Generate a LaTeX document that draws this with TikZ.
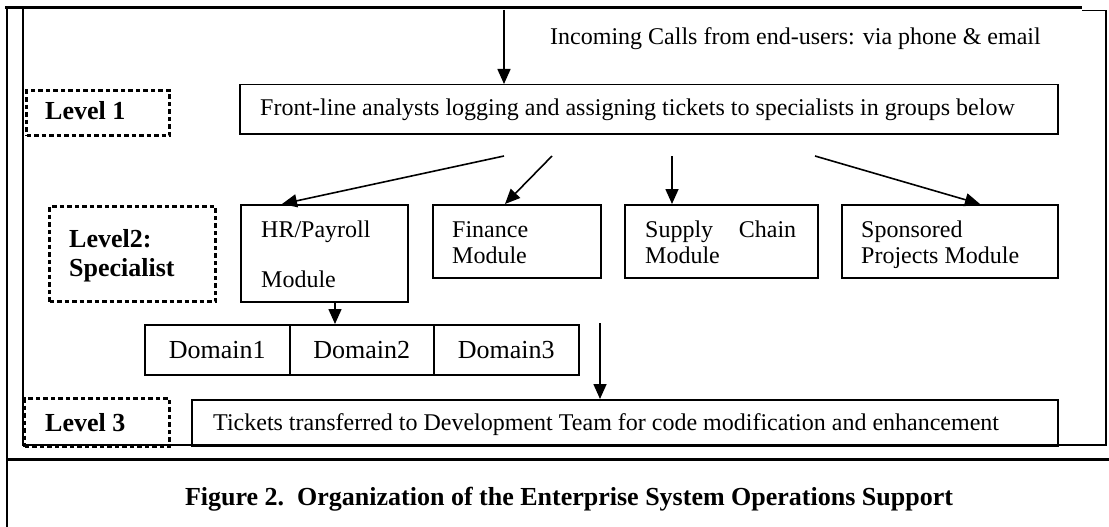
\documentclass[tikz,border=0pt]{standalone}
\usepackage{fontspec}
\setmainfont{Liberation Serif}
\usetikzlibrary{arrows.meta,calc}
\begin{document}
\begin{tikzpicture}[x=1pt,y=-1pt,
  box/.style={draw, line width=1.5pt, inner sep=0pt, anchor=north west},
  lvl/.style={draw, line width=3.2pt, dash pattern=on 4.5pt off 3pt, inner sep=0pt, anchor=north west},
  txt/.style={anchor=base west, inner sep=0pt, font=\fontsize{24}{28}\selectfont},
  btxt/.style={anchor=base west, inner sep=0pt, font=\fontsize{26}{30}\selectfont\bfseries},
  dtxt/.style={font=\fontsize{26}{30}\selectfont},
  arr/.style={line width=1.6pt, -{Triangle[width=13pt,length=15pt]}},
  thick frame/.style={line width=3pt},
  thin frame/.style={line width=1.5pt}]
\useasboundingbox (0,0) rectangle (1109,527);

% frame
\draw[line width=2.5pt] (7,6.5) -- (7,527);
\draw[thick frame] (5,8) -- (1082,8);
\draw[thin frame] (1082,10.5) -- (1106,10.5) -- (1106,445) -- (23,445) -- (23,8);
\draw[thick frame] (7,459) -- (1109,459);

% level boxes
\node[lvl, minimum width=143pt, minimum height=45pt] (lv1) at (25,89) {};
\node[lvl, minimum width=166pt, minimum height=95pt] (lv2) at (48,205) {};
\node[lvl, minimum width=145pt, minimum height=48pt] (lv3) at (23,397) {};
\node[btxt] (tlv1) at (45,120) {Level 1};
\node[btxt] (tlv2a) at (69,247) {Level2:};
\node[btxt] (tlv2b) at (69,276) {Specialist};
\node[btxt] (tlv3) at (45,431) {Level 3};

% main boxes
\node[box, minimum width=818pt, minimum height=49pt] (front) at (239,84) {};
\node[box, minimum width=167pt, minimum height=97pt] (hr) at (240,204) {};
\node[box, minimum width=168pt, minimum height=73pt] (fin) at (432,204) {};
\node[box, minimum width=193pt, minimum height=73pt] (sup) at (624,204) {};
\node[box, minimum width=216pt, minimum height=73pt] (spo) at (841,204) {};
\node[box, dtxt, minimum width=145pt, minimum height=50pt] (d1) at (144,324) {Domain1};
\node[box, dtxt, minimum width=144pt, minimum height=50pt] (d2) at (289,324) {Domain2};
\node[box, dtxt, minimum width=145pt, minimum height=50pt] (d3) at (433,324) {Domain3};
\node[box, minimum width=866pt, minimum height=46pt] (dev) at (191,399) {};

% texts
\node[txt] (tin) at (550,45) {Incoming Calls from end-users: via phone \& email};
\node[txt] (tfront) at (260,115) {Front-line analysts logging and assigning tickets to specialists in groups below};
\node[txt] (thra) at (261,237) {HR/Payroll};
\node[txt] (thrb) at (261,287) {Module};
\node[txt] (tfina) at (452,237) {Finance};
\node[txt] (tfinb) at (452,263) {Module};
\node[txt] (tsupa) at (645,237) {\makebox[151pt][l]{Supply\hfill Chain}};
\node[txt] (tsupb) at (645,263) {Module};
\node[txt] (tspoa) at (861,237) {Sponsored};
\node[txt] (tspob) at (861,263) {Projects Module};
\node[txt] (tdev) at (213,430) {Tickets transferred to Development Team for code modification and enhancement};
\node[anchor=base, inner sep=0pt, font=\fontsize{26}{30}\selectfont\bfseries] (cap) at (569,505) {Figure 2.\ \ Organization of the Enterprise System Operations Support};

% connectors
\coordinate (inTop) at (504,10);
\coordinate (s1) at (504,156);
\coordinate (s2) at (552,156);
\coordinate (s3) at (672,156);
\coordinate (s4) at (815,156);
\coordinate (s5) at (600,323);
\draw[arr] (inTop) -- (inTop |- front.north);
\draw[arr] (s1) -- ([xshift=42pt]hr.north west);
\draw[arr] (s2) -- ([xshift=73pt]fin.north west);
\draw[arr] (s3) -- (s3 |- sup.north);
\draw[arr] (s4) -- ([xshift=139pt]spo.north west);
\draw[arr] ([xshift=95pt]hr.south west) -- ([xshift=95pt]hr.south west |- d2.north);
\draw[arr] (s5) -- (s5 |- dev.north);
\end{tikzpicture}
\end{document}
